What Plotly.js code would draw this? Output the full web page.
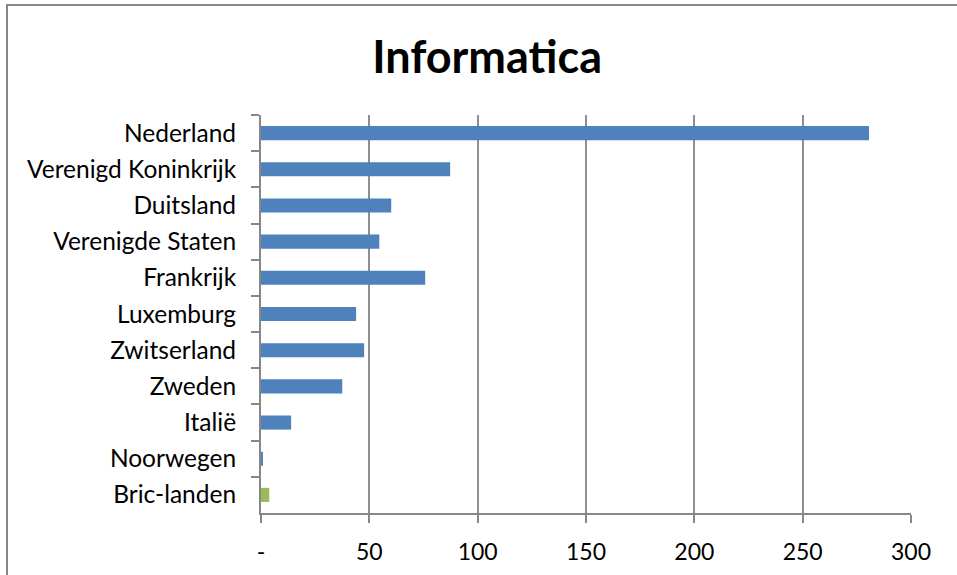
<!DOCTYPE html>
<html>
<head>
<meta charset="utf-8">
<script src="https://cdn.plot.ly/plotly-3.0.1.min.js"></script>
<style>
  html, body { margin: 0; padding: 0; background: #fff; overflow: hidden; }
  #wrap { position: relative; width: 957px; height: 575px; overflow: hidden; }
  #chart { position: absolute; left: 0; top: 0; width: 957px; height: 575px; }
  #frame { position: absolute; left: 6px; top: 4px; width: 2000px; height: 2000px;
           border: 2px solid #878787; pointer-events: none; }
</style>
</head>
<body>
<div id="wrap">
  <div id="chart"></div>
  <div id="frame"></div>
</div>
<script>
const categories = ["Nederland", "Verenigd Koninkrijk", "Duitsland", "Verenigde Staten",
  "Frankrijk", "Luxemburg", "Zwitserland", "Zweden", "Italië", "Noorwegen", "Bric-landen"];
const values = [280.6, 87.3, 60.1, 54.6, 75.8, 43.9, 47.6, 37.5, 13.9, 0.9, 3.8];
const xTickVals = [0, 50, 100, 150, 200, 250, 300];
const xTickText = ["-", "50", "100", "150", "200", "250", "300"];
const highlightCategory = "Bric-landen";

const BLUE = "#4F81BD", GREEN = "#9BBB59", AXIS = "#878787", FONT = "Lato, 'Open Sans', sans-serif";

const trace = {
  type: "bar",
  orientation: "h",
  x: values,
  y: categories,
  marker: { color: categories.map(c => c === highlightCategory ? GREEN : BLUE) },
  hoverinfo: "x+y"
};

const layout = {
  width: 957, height: 575,
  margin: { l: 261, r: 46, t: 115, b: 62, pad: 0 },
  paper_bgcolor: "#fff", plot_bgcolor: "#fff",
  bargap: 0.61,
  showlegend: false,
  font: { family: FONT, color: "#000", size: 22 },
  title: {
    text: "<b>Informatica</b>",
    font: { family: FONT, size: 45, color: "#000" },
    x: 0.509, xref: "container", xanchor: "center",
    y: 0.9, yref: "container", yanchor: "middle"
  },
  xaxis: {
    range: [0, 300],
    tickvals: xTickVals, ticktext: xTickText,
    showgrid: true, gridcolor: "#8E8E8E", gridwidth: 2,
    zeroline: false,
    showline: true, linecolor: AXIS, linewidth: 2,
    ticks: "outside", ticklen: 8, tickwidth: 2, tickcolor: AXIS,
    ticklabelstandoff: 9,
    tickfont: { family: FONT, size: 23, color: "#000" },
    fixedrange: true
  },
  yaxis: {
    type: "category",
    autorange: "reversed",
    showgrid: false, zeroline: false,
    showline: true, linecolor: AXIS, linewidth: 2,
    ticks: "outside", tickson: "boundaries", ticklen: 8, tickwidth: 2, tickcolor: AXIS,
    ticklabelstandoff: 18,
    tickfont: { family: FONT, size: 24.5, color: "#000" },
    fixedrange: true
  }
};

Plotly.newPlot("chart", [trace], layout, { displayModeBar: false, staticPlot: true });
</script>
</body>
</html>
